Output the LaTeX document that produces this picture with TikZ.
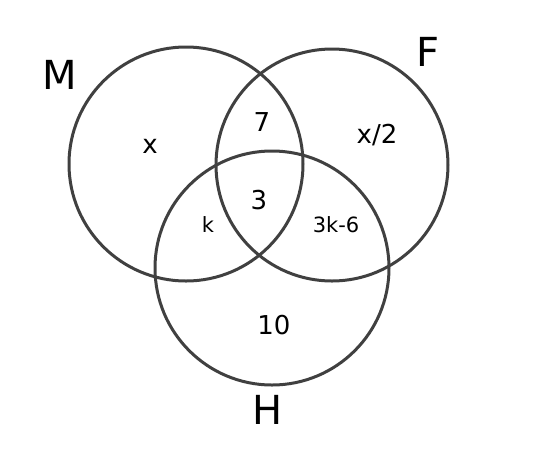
\documentclass[tikz,border=0pt]{standalone}
\usepackage{fontspec}
\setmainfont{DejaVu Sans}
\begin{document}
\begin{tikzpicture}[x=1pt,y=-1pt,
  ring/.style={draw=black!75,line width=3pt},
  big/.style={font=\fontsize{40}{40}\selectfont,inner sep=0pt},
  num/.style={font=\fontsize{26}{26}\selectfont,inner sep=0pt},
  small/.style={font=\fontsize{21}{21}\selectfont,inner sep=0pt}]
\useasboundingbox (0,0) rectangle (558,451);
\node[ring,circle,minimum size=234pt,inner sep=0pt] (cM) at (186,164) {};
\node[ring,circle,minimum size=232pt,inner sep=0pt] (cF) at (332,165) {};
\node[ring,circle,minimum size=234pt,inner sep=0pt] (cH) at (272,268) {};
\node[big] (lM) at (60,75) {M};
\node[big] (lF) at (428,52) {F};
\node[big] (lH) at (268,410) {H};
\node[num] (a) at (150,146) {x};
\node[num] (b) at (262,122) {7};
\node[num] (c) at (377,135) {x/2};
\node[num] (d) at (259,200) {3};
\node[small] (e) at (208,225) {k};
\node[small] (f) at (336,225) {3k-6};
\node[num] (g) at (274,325) {10};
\end{tikzpicture}
\end{document}
